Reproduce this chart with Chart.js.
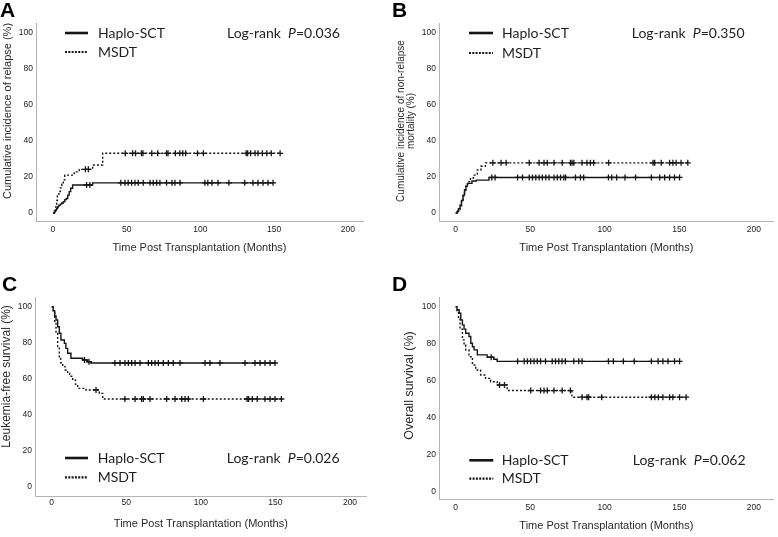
<!DOCTYPE html>
<html>
<head>
<meta charset="utf-8">
<script src="https://cdn.jsdelivr.net/npm/chart.js@4.4.1/dist/chart.umd.min.js"></script>
<style>
  body { margin: 0; background: #fff; }
  #fig { position: relative; width: 778px; height: 537px; }
  #fig canvas { position: absolute; }
</style>
</head>
<body>
<div id="fig">
  <canvas id="cA" width="389" height="268" style="left:0;top:0"></canvas>
  <canvas id="cB" width="388" height="268" style="left:390px;top:0"></canvas>
  <canvas id="cC" width="389" height="269" style="left:0;top:268px"></canvas>
  <canvas id="cD" width="388" height="269" style="left:390px;top:268px"></canvas>
</div>
<script>
// tick labels
const monthTicks = [0, 50, 100, 150, 200];
const pctTicks = [0, 20, 40, 60, 80, 100];

// A - cumulative incidence of relapse (event times in months, value after the step, censor times)
const relHaploT = [0.9, 1.5, 2, 2.5, 3, 3.5, 4, 5, 6, 7, 8, 9, 10, 11, 12, 13.3, 26.9];
const relHaploV = [0.6, 1.2, 1.9, 2.5, 3.1, 3.8, 4.4, 5, 5.6, 6.3, 7.5, 8.1, 10, 11.9, 13.8, 15.6, 16.8];
const relHaploC = [22.8, 25, 46, 48.8, 51, 53.3, 55.6, 57.8, 61.2, 65.8, 68, 70.3, 72.5, 77, 80.7, 82.7, 86.1, 103, 105, 107.8, 111.9, 119.3, 130, 135.6, 139, 142.4, 145.8, 149.2];
const relMsdtT = [1, 2, 2.5, 3, 4, 5, 6, 7, 8, 14.4, 17.8, 26.9, 33.7];
const relMsdtV = [1.5, 4.6, 7, 9.5, 12, 14, 16, 18.5, 21.1, 22.9, 24.3, 26.7, 33.2];
const relMsdtC = [22, 24, 49, 54, 56, 60, 61, 67, 71, 77, 78, 83, 86, 88, 90, 98, 102, 131, 132, 134, 137, 139, 142, 145, 148, 154];

// B - cumulative incidence of non-relapse mortality
const nrmHaploT = [1, 1.5, 2, 3, 4, 5, 6, 7, 8, 11, 14, 22.4];
const nrmHaploV = [0.7, 1.5, 2.5, 4.5, 7, 10, 13, 15, 16.5, 17.8, 18.3, 19.8];
const nrmHaploC = [24.3, 26.5, 41.6, 44.9, 49.4, 51.6, 53.8, 56, 58.2, 60.5, 62.7, 66, 68.2, 70.4, 72.6, 73.8, 80.4, 83.7, 85.9, 102.5, 104.7, 108, 113.6, 120.7, 131.3, 136.9, 140.2, 143.5, 146.8, 150.2];
const nrmMsdtT = [1, 2, 3, 4, 5, 6, 6.8, 8, 10, 12, 14.6, 17, 20];
const nrmMsdtV = [0.8, 2, 4, 6.5, 9.5, 12.5, 15, 17.4, 19.5, 21.1, 23.9, 26, 27.9];
const nrmMsdtC = [25, 30.5, 33.9, 49.4, 56, 59.3, 61.5, 66, 71.5, 77, 78.1, 79.3, 84.8, 88.1, 90.4, 92.6, 102.6, 132.4, 133.5, 137.9, 143.5, 145.7, 147.9, 151.2, 155.7];

// C - leukemia-free survival
const lfsHaploT = [1, 2, 2.9, 4, 5.1, 6.2, 8.5, 9.5, 10.7, 12.9, 20.8, 24.1, 26.3];
const lfsHaploV = [98, 95, 92.8, 89, 85.4, 81.7, 79.8, 77, 74.3, 71.5, 70.6, 69.6, 68.9];
const lfsHaploC = [22, 25, 42.4, 45.8, 49.1, 51.4, 53.6, 55.9, 59.2, 64.8, 67, 69.3, 71.5, 74.8, 78.2, 81.5, 86, 102.8, 106.1, 112.8, 129.6, 136.3, 139.7, 143, 146.4, 149.7];
const lfsMsdtT = [1, 2, 2.9, 4, 5.1, 6, 7.4, 9, 10.7, 12, 14.1, 16, 17.4, 23, 31.9, 34.2];
const lfsMsdtV = [97, 92, 85.5, 78, 71.6, 69, 66.9, 65, 63.2, 61.5, 59.4, 57, 54.8, 53.9, 52, 48.9];
const lfsMsdtC = [29.7, 49.1, 55.9, 60.3, 61.4, 65.9, 77.1, 82.7, 87.2, 89.4, 91.6, 101.7, 131, 132, 134.5, 137.8, 143, 146.4, 149.7, 154];

// D - overall survival
const osHaploT = [1, 2.4, 3.5, 4.6, 5.7, 6.8, 9, 10.2, 11.3, 12.4, 14.6, 21.2, 25.6, 27.9];
const osHaploV = [98.5, 96.6, 93, 90.3, 88, 85.8, 84, 80.4, 78.5, 76.8, 74.1, 72.8, 71.7, 70.6];
const osHaploC = [23.9, 41.6, 46, 48.2, 50.4, 52.6, 54.8, 57, 60.3, 64.8, 67, 69.2, 71.4, 73.6, 79.3, 82.6, 84.8, 102.5, 105.8, 112.5, 119.8, 131.3, 135.8, 139, 142.4, 146.8, 150.2];
const osMsdtT = [1, 2, 3, 4.6, 5.7, 6.8, 9, 11.3, 13.5, 16.8, 20.1, 23.5, 27.9, 34.6, 78];
const osMsdtV = [98, 94, 88, 82.2, 79.5, 76.8, 73.1, 68.6, 65.9, 63.2, 61.4, 59.6, 57.8, 54.8, 51.2];
const osMsdtC = [29.5, 32.8, 50.4, 57, 59.3, 61.5, 66, 71.5, 77, 84.8, 88.1, 89.2, 98, 131.3, 133.6, 136, 139, 143.5, 145.7, 150.2, 154.6];

const seriesNames = ['Haplo-SCT', 'MSDT'];

// step function points: level changes at event times, censored cases sit on the current level
function kmPoints(start, times, values, cens) {
  const pts = [{ x: 0, y: start, c: false }];
  times.forEach((t, i) => pts.push({ x: t, y: values[i], c: false }));
  cens.forEach(t => pts.push({ x: t, y: null, c: true }));
  pts.sort((a, b) => a.x - b.x);
  let level = start;
  pts.forEach(p => { if (p.c) p.y = level; else level = p.y; });
  return pts;
}

const INK = '#151515';
const SANS = '"Liberation Sans", Arial, sans-serif';
const LEG = 'Lato, "Open Sans", sans-serif';

const kmDecor = {
  id: 'kmDecor',
  afterDraw(chart, args, o) {
    const ctx = chart.ctx;
    ctx.save();
    ctx.fillStyle = '#000';
    ctx.font = 'bold 21px ' + SANS;
    ctx.textBaseline = 'alphabetic';
    ctx.textAlign = 'left';
    ctx.fillText(o.letter, o.letterX, o.letterY);

    // y title
    ctx.save();
    ctx.fillStyle = '#2a2a2a';
    ctx.font = o.yFont + 'px ' + SANS;
    ctx.textAlign = 'center';
    ctx.textBaseline = 'middle';
    ctx.translate(o.yTitleX, o.yTitleY);
    ctx.rotate(-Math.PI / 2);
    o.yTitle.forEach((line, i) => ctx.fillText(line, 0, i * o.yLine));
    ctx.restore();

    // legend
    const rows = [o.legY1, o.legY2];
    ctx.strokeStyle = INK;
    ctx.lineCap = 'butt';
    rows.forEach((y, i) => {
      ctx.beginPath();
      ctx.lineWidth = i === 0 ? 2.6 : 2.2;
      ctx.setLineDash(i === 0 ? [] : [2, 1.3]);
      ctx.moveTo(o.legX1, y);
      ctx.lineTo(o.legX2, y);
      ctx.stroke();
    });
    ctx.setLineDash([]);
    ctx.fillStyle = '#1e1e1e';
    ctx.font = '14px ' + LEG;
    ctx.textBaseline = 'middle';
    rows.forEach((y, i) => ctx.fillText(seriesNames[i], o.legText, y));

    // log-rank p value
    let x = o.pX;
    ctx.fillText('Log-rank  ', x, o.legY1);
    x += ctx.measureText('Log-rank  ').width;
    ctx.font = 'italic 14px ' + LEG;
    ctx.fillText('P', x, o.legY1);
    x += ctx.measureText('P').width;
    ctx.font = '14px ' + LEG;
    ctx.fillText('=' + o.p, x, o.legY1);
    ctx.restore();
  }
};

function makePanel(id, lay, deco, haplo, msdt) {
  const line = (pts, dash) => ({
    data: pts,
    stepped: true,
    borderColor: INK,
    borderWidth: 1.4,
    borderDash: dash,
    fill: false,
    pointStyle: 'cross',
    pointRadius: c => (c.raw && c.raw.c ? 3 : 0),
    pointHoverRadius: 0,
    pointBorderColor: INK,
    pointBorderWidth: 1.3
  });
  new Chart(document.getElementById(id), {
    type: 'line',
    data: { datasets: [line(haplo, []), line(msdt, [2, 2])] },
    options: {
      responsive: false,
      animation: false,
      events: [],
      layout: { padding: { left: 0, top: lay.padTop, right: lay.padRight, bottom: 0 } },
      plugins: { legend: { display: false }, tooltip: { enabled: false }, kmDecor: deco },
      scales: {
        x: {
          type: 'linear',
          min: lay.xMin, max: lay.xMax,
          afterBuildTicks: s => { s.ticks = monthTicks.map(v => ({ value: v })); },
          afterFit: s => { s.height = lay.xH; },
          grid: { display: false, drawTicks: false },
          border: { display: true, color: '#b3b3b3', width: 1 },
          ticks: { color: '#222', font: { family: SANS, size: 8.5 }, padding: lay.xTickPad, autoSkip: false, maxRotation: 0 },
          title: { display: true, text: 'Time Post Transplantation (Months)', color: '#2a2a2a',
                   font: { family: SANS, size: 11 }, padding: { top: 0, bottom: lay.xTitlePad } }
        },
        y: {
          type: 'linear',
          min: lay.yMin, max: lay.yMax,
          afterBuildTicks: s => { s.ticks = pctTicks.map(v => ({ value: v })); },
          afterFit: s => { s.width = lay.yW; },
          grid: { display: false, drawTicks: false },
          border: { display: true, color: '#b3b3b3', width: 1 },
          ticks: { color: '#222', font: { family: SANS, size: 8.5 }, padding: 3 }
        }
      }
    },
    plugins: [kmDecor]
  });
}

makePanel('cA',
  { padTop: 23, padRight: 26, xMin: -11.5, xMax: 210.2, yMin: -4.4, yMax: 105.6, xH: 47, yW: 36, xTickPad: 4, xTitlePad: 13 },
  { letter: 'A', letterX: 0, letterY: 16.5, yTitle: ['Cumulative incidence of relapse (%)'], yFont: 11, yLine: 10, yTitleX: 7.5, yTitleY: 111,
    legX1: 65, legX2: 88, legText: 98, legY1: 33, legY2: 52, pX: 227, p: '0.036' },
  kmPoints(0, relHaploT, relHaploV, relHaploC), kmPoints(0, relMsdtT, relMsdtV, relMsdtC));

makePanel('cB',
  { padTop: 23, padRight: 1, xMin: -11.1, xMax: 213.3, yMin: -4.4, yMax: 105.6, xH: 47, yW: 49, xTickPad: 4, xTitlePad: 13 },
  { letter: 'B', letterX: 2, letterY: 16.5, yTitle: ['Cumulative incidence of non-relapse', 'mortality (%)'], yFont: 10, yLine: 10, yTitleX: 11, yTitleY: 121,
    legX1: 79, legX2: 103, legText: 112, legY1: 33, legY2: 53, pX: 241.7, p: '0.350' },
  kmPoints(0, nrmHaploT, nrmHaploV, nrmHaploC), kmPoints(0, nrmMsdtT, nrmMsdtV, nrmMsdtC));

makePanel('cC',
  { padTop: 29.3, padRight: 22.3, xMin: -11.2, xMax: 211.2, yMin: -5, yMax: 105.4, xH: 41, yW: 35, xTickPad: 1.8, xTitlePad: 6.5 },
  { letter: 'C', letterX: 2, letterY: 23, yTitle: ['Leukemia-free survival (%)'], yFont: 12, yLine: 10, yTitleX: 6.7, yTitleY: 108.5,
    legX1: 65, legX2: 88, legText: 97.7, legY1: 190, legY2: 209.3, pX: 226.7, p: '0.026' },
  kmPoints(100, lfsHaploT, lfsHaploV, lfsHaploC), kmPoints(100, lfsMsdtT, lfsMsdtV, lfsMsdtC));

makePanel('cD',
  { padTop: 29.3, padRight: 1, xMin: -11.1, xMax: 213.3, yMin: -3.8, yMax: 105.2, xH: 38, yW: 49, xTickPad: 3.2, xTitlePad: 4.5 },
  { letter: 'D', letterX: 2, letterY: 23, yTitle: ['Overall survival (%)'], yFont: 12.5, yLine: 10, yTitleX: 20, yTitleY: 117.5,
    legX1: 79.3, legX2: 103.3, legText: 111.7, legY1: 192.3, legY2: 210.7, pX: 242.7, p: '0.062' },
  kmPoints(100, osHaploT, osHaploV, osHaploC), kmPoints(100, osMsdtT, osMsdtV, osMsdtC));
</script>
</body>
</html>
